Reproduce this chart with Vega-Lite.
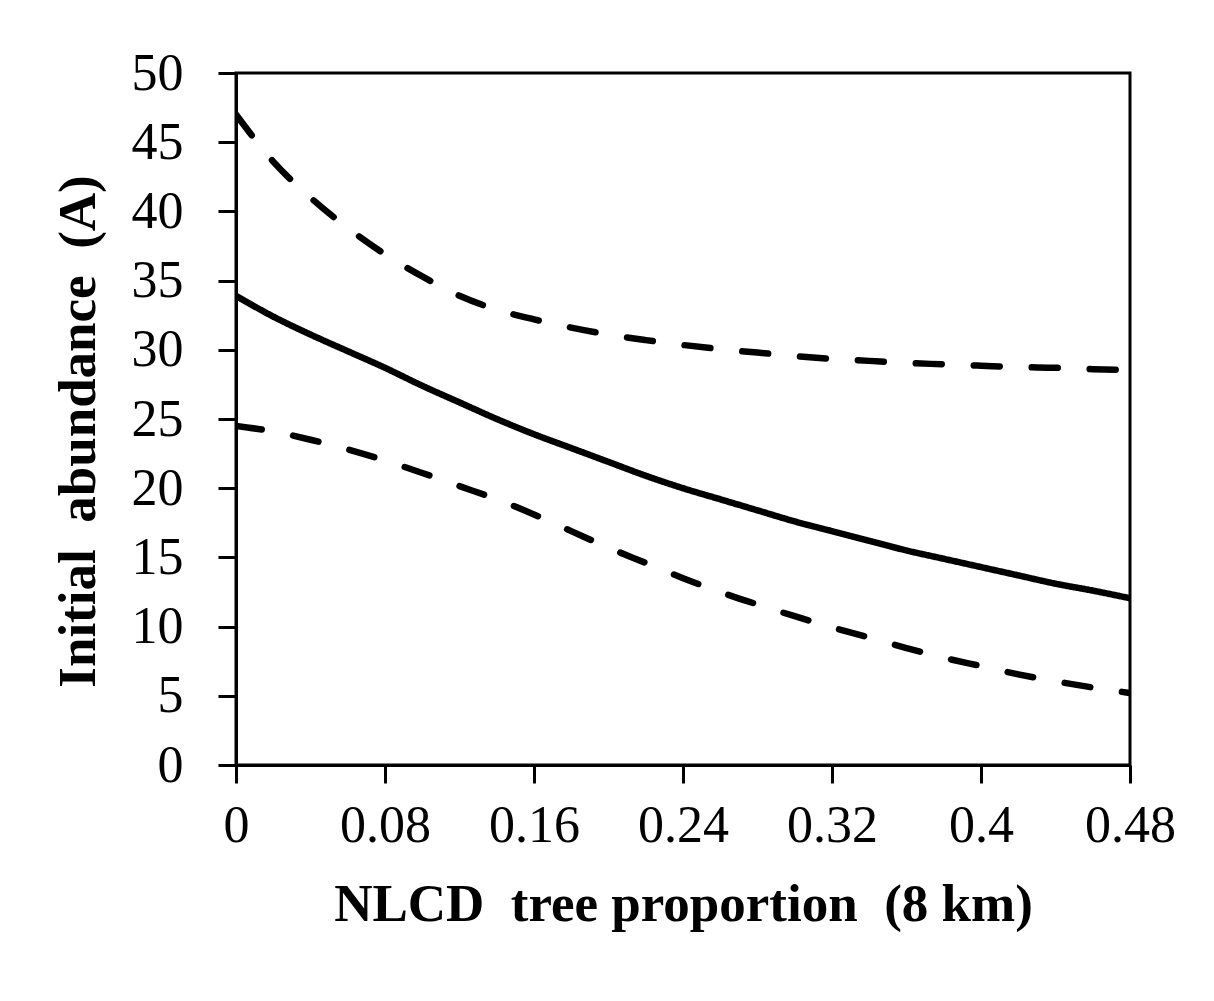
{
  "$schema": "https://vega.github.io/schema/vega-lite/v6.json",
  "width": 894,
  "height": 692,
  "autosize": {"type": "none"},
  "padding": {"left": 236, "top": 73, "right": 84, "bottom": 236},
  "background": "white",
  "config": {
    "font": "Liberation Serif",
    "view": {"stroke": "black", "strokeWidth": 3},
    "axis": {
      "grid": false,
      "domainColor": "black",
      "domainWidth": 3,
      "tickColor": "black",
      "tickWidth": 3,
      "tickSize": 18,
      "labelFont": "Liberation Serif",
      "labelFontSize": 52,
      "labelColor": "black",
      "titleFont": "Liberation Serif",
      "titleFontSize": 53,
      "titleFontWeight": "bold",
      "titleColor": "black"
    }
  },
  "data": {
    "values": [
      {"x": 0.00, "y": 47.0, "series": "upper", "kind": "bound"},
      {"x": 0.02, "y": 43.6, "series": "upper", "kind": "bound"},
      {"x": 0.04, "y": 41.0, "series": "upper", "kind": "bound"},
      {"x": 0.06, "y": 38.8, "series": "upper", "kind": "bound"},
      {"x": 0.08, "y": 36.9, "series": "upper", "kind": "bound"},
      {"x": 0.10, "y": 35.3, "series": "upper", "kind": "bound"},
      {"x": 0.12, "y": 33.9, "series": "upper", "kind": "bound"},
      {"x": 0.14, "y": 32.9, "series": "upper", "kind": "bound"},
      {"x": 0.16, "y": 32.2, "series": "upper", "kind": "bound"},
      {"x": 0.18, "y": 31.6, "series": "upper", "kind": "bound"},
      {"x": 0.20, "y": 31.1, "series": "upper", "kind": "bound"},
      {"x": 0.22, "y": 30.7, "series": "upper", "kind": "bound"},
      {"x": 0.24, "y": 30.35, "series": "upper", "kind": "bound"},
      {"x": 0.26, "y": 30.05, "series": "upper", "kind": "bound"},
      {"x": 0.28, "y": 29.8, "series": "upper", "kind": "bound"},
      {"x": 0.30, "y": 29.55, "series": "upper", "kind": "bound"},
      {"x": 0.32, "y": 29.35, "series": "upper", "kind": "bound"},
      {"x": 0.34, "y": 29.2, "series": "upper", "kind": "bound"},
      {"x": 0.36, "y": 29.05, "series": "upper", "kind": "bound"},
      {"x": 0.38, "y": 28.95, "series": "upper", "kind": "bound"},
      {"x": 0.40, "y": 28.85, "series": "upper", "kind": "bound"},
      {"x": 0.42, "y": 28.75, "series": "upper", "kind": "bound"},
      {"x": 0.44, "y": 28.7, "series": "upper", "kind": "bound"},
      {"x": 0.46, "y": 28.6, "series": "upper", "kind": "bound"},
      {"x": 0.48, "y": 28.55, "series": "upper", "kind": "bound"},
      {"x": 0.00, "y": 33.9, "series": "fitted", "kind": "fitted"},
      {"x": 0.02, "y": 32.4, "series": "fitted", "kind": "fitted"},
      {"x": 0.04, "y": 31.1, "series": "fitted", "kind": "fitted"},
      {"x": 0.06, "y": 29.9, "series": "fitted", "kind": "fitted"},
      {"x": 0.08, "y": 28.7, "series": "fitted", "kind": "fitted"},
      {"x": 0.10, "y": 27.4, "series": "fitted", "kind": "fitted"},
      {"x": 0.12, "y": 26.2, "series": "fitted", "kind": "fitted"},
      {"x": 0.14, "y": 25.0, "series": "fitted", "kind": "fitted"},
      {"x": 0.16, "y": 23.9, "series": "fitted", "kind": "fitted"},
      {"x": 0.18, "y": 22.9, "series": "fitted", "kind": "fitted"},
      {"x": 0.20, "y": 21.9, "series": "fitted", "kind": "fitted"},
      {"x": 0.22, "y": 20.9, "series": "fitted", "kind": "fitted"},
      {"x": 0.24, "y": 20.0, "series": "fitted", "kind": "fitted"},
      {"x": 0.26, "y": 19.2, "series": "fitted", "kind": "fitted"},
      {"x": 0.28, "y": 18.4, "series": "fitted", "kind": "fitted"},
      {"x": 0.30, "y": 17.6, "series": "fitted", "kind": "fitted"},
      {"x": 0.32, "y": 16.9, "series": "fitted", "kind": "fitted"},
      {"x": 0.34, "y": 16.2, "series": "fitted", "kind": "fitted"},
      {"x": 0.36, "y": 15.5, "series": "fitted", "kind": "fitted"},
      {"x": 0.38, "y": 14.9, "series": "fitted", "kind": "fitted"},
      {"x": 0.40, "y": 14.3, "series": "fitted", "kind": "fitted"},
      {"x": 0.42, "y": 13.7, "series": "fitted", "kind": "fitted"},
      {"x": 0.44, "y": 13.1, "series": "fitted", "kind": "fitted"},
      {"x": 0.46, "y": 12.6, "series": "fitted", "kind": "fitted"},
      {"x": 0.48, "y": 12.05, "series": "fitted", "kind": "fitted"},
      {"x": 0.00, "y": 24.5, "series": "lower", "kind": "bound"},
      {"x": 0.02, "y": 24.1, "series": "lower", "kind": "bound"},
      {"x": 0.04, "y": 23.5, "series": "lower", "kind": "bound"},
      {"x": 0.06, "y": 22.8, "series": "lower", "kind": "bound"},
      {"x": 0.08, "y": 22.0, "series": "lower", "kind": "bound"},
      {"x": 0.10, "y": 21.1, "series": "lower", "kind": "bound"},
      {"x": 0.12, "y": 20.15, "series": "lower", "kind": "bound"},
      {"x": 0.14, "y": 19.2, "series": "lower", "kind": "bound"},
      {"x": 0.16, "y": 18.1, "series": "lower", "kind": "bound"},
      {"x": 0.18, "y": 16.9, "series": "lower", "kind": "bound"},
      {"x": 0.20, "y": 15.7, "series": "lower", "kind": "bound"},
      {"x": 0.22, "y": 14.6, "series": "lower", "kind": "bound"},
      {"x": 0.24, "y": 13.5, "series": "lower", "kind": "bound"},
      {"x": 0.26, "y": 12.5, "series": "lower", "kind": "bound"},
      {"x": 0.28, "y": 11.6, "series": "lower", "kind": "bound"},
      {"x": 0.30, "y": 10.75, "series": "lower", "kind": "bound"},
      {"x": 0.32, "y": 9.95, "series": "lower", "kind": "bound"},
      {"x": 0.34, "y": 9.2, "series": "lower", "kind": "bound"},
      {"x": 0.36, "y": 8.45, "series": "lower", "kind": "bound"},
      {"x": 0.38, "y": 7.75, "series": "lower", "kind": "bound"},
      {"x": 0.40, "y": 7.15, "series": "lower", "kind": "bound"},
      {"x": 0.42, "y": 6.55, "series": "lower", "kind": "bound"},
      {"x": 0.44, "y": 6.05, "series": "lower", "kind": "bound"},
      {"x": 0.46, "y": 5.6, "series": "lower", "kind": "bound"},
      {"x": 0.48, "y": 5.2, "series": "lower", "kind": "bound"}
    ]
  },
  "mark": {"type": "line", "interpolate": "monotone", "color": "black", "strokeWidth": 6.5, "strokeCap": "round", "clip": true},
  "encoding": {
    "x": {
      "field": "x",
      "type": "quantitative",
      "scale": {"domain": [0, 0.48], "nice": false, "zero": false},
      "axis": {
        "values": [0, 0.08, 0.16, 0.24, 0.32, 0.4, 0.48],
        "format": "~g",
        "labelPadding": 17,
        "labelFlush": false,
        "title": "NLCD\u00a0 tree proportion\u00a0 (8 km)",
        "titlePadding": 27
      }
    },
    "y": {
      "field": "y",
      "type": "quantitative",
      "scale": {"domain": [0, 50], "nice": false},
      "axis": {
        "values": [0, 5, 10, 15, 20, 25, 30, 35, 40, 45, 50],
        "labelPadding": 35,
        "labelFlush": false,
        "title": "Initial\u00a0 abundance\u00a0 (A)",
        "titlePadding": 26,
        "titleY": 358
      }
    },
    "detail": {"field": "series", "type": "nominal"},
    "strokeDash": {
      "field": "kind",
      "type": "nominal",
      "scale": {"domain": ["fitted", "bound"], "range": [[1, 0], [26, 32]]},
      "legend": null
    }
  }
}
